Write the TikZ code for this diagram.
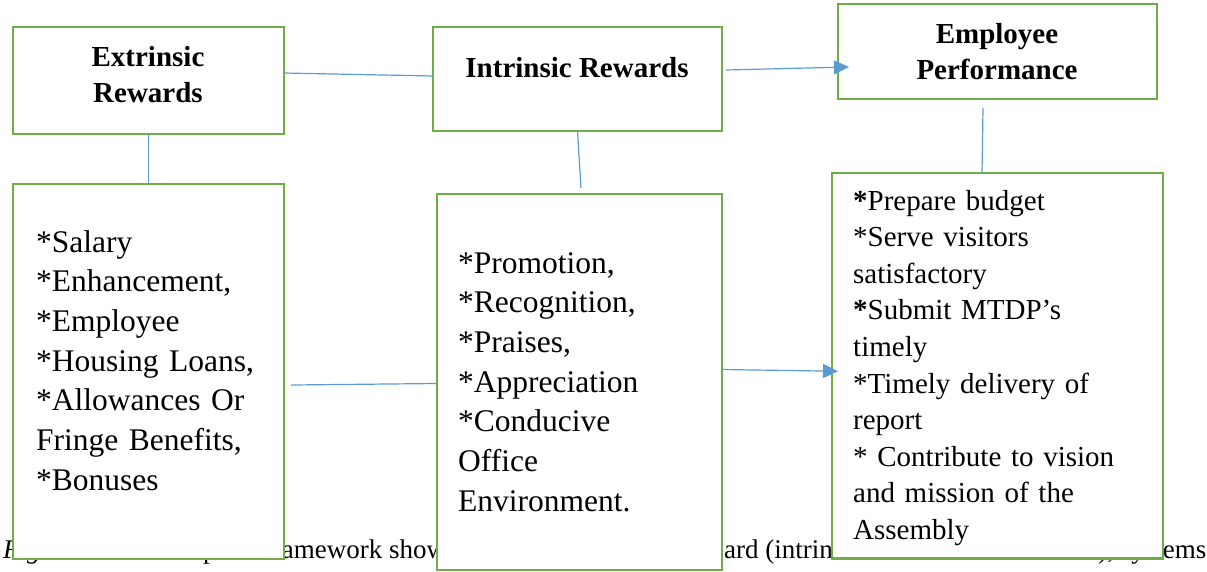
\documentclass[tikz,border=0pt]{standalone}
\usepackage{fontspec}
\setmainfont{Liberation Serif}
\usetikzlibrary{arrows.meta}
\definecolor{boxgreen}{HTML}{70AD47}
\definecolor{linkblue}{HTML}{5B9BD5}
\tikzset{
 box/.style={draw=boxgreen, line width=2.4pt, fill=white, rectangle, inner sep=0pt, outer sep=0pt, anchor=north west},
 link/.style={draw=linkblue, line width=1.2pt},
 arr/.style={link, -{Triangle[length=15pt,width=14pt]}},
 head/.style={font=\fontsize{29}{36}\selectfont\bfseries, align=center, inner sep=0pt, anchor=base},
 listbig/.style={font=\fontsize{31.5}{39.7}\selectfont, text width=250pt, align=left, inner sep=0pt, anchor=base west},
 listsmall/.style={font=\fontsize{29}{36.6}\selectfont, text width=300pt, align=left, inner sep=0pt, anchor=base west},
 captext/.style={font=\fontsize{27}{30}\selectfont, inner sep=0pt},
}
\begin{document}
\begin{tikzpicture}[x=1pt,y=-1pt]
\useasboundingbox (0,0) rectangle (1207,571);
% caption, partly hidden by the boxes
\node[captext, anchor=base west] (cap1) at (3,558.5) {\textit{Figure 2.1:} Conceptual framework showing};
\node[captext, anchor=base west] (cap2) at (724,558.5) {ard (intrinsic};
\node[captext, anchor=base east] (cap3) at (1206.5,558.5) {rewards), systems};
% boxes
\node[box, minimum width=271pt, minimum height=107pt] (ext) at (13,27) {};
\node[box, minimum width=289pt, minimum height=104pt] (intr) at (433,27) {};
\node[box, minimum width=319pt, minimum height=95pt] (emp) at (838,4) {};
\node[box, minimum width=271pt, minimum height=375pt] (lb) at (13,184) {};
\node[box, minimum width=285pt, minimum height=376pt] (mb) at (437,194) {};
\node[box, minimum width=331pt, minimum height=385.5pt] (rb) at (832,173) {};
% texts
\node[head] (extT) at (148,102) {Extrinsic\\Rewards};
\node[head] (intrT) at (577,77) {Intrinsic Rewards};
\node[head] (empT) at (997,79) {Employee\\Performance};
\node[listbig] (lbT) at (36,252) {{*}Salary\\{*}Enhancement,\\{*}Employee\\{*}Housing Loans,\\{*}Allowances Or\\Fringe Benefits,\\{*}Bonuses};
\node[listbig] (mbT) at (458,273) {{*}Promotion,\\{*}Recognition,\\{*}Praises,\\{*}Appreciation\\{*}Conducive\\Office\\Environment.};
\node[listsmall] (rbT) at (853,210) {\textbf{*}Prepare budget\\{*}Serve visitors\\satisfactory\\\textbf{*}Submit MTDP’s\\timely\\{*}Timely delivery of\\report\\{*} Contribute to vision\\and mission of the\\Assembly};
% connectors
\draw[link] ([yshift=7.5pt]ext.east) -- ([yshift=3pt]intr.west);
\draw[arr] ([xshift=4pt,yshift=9pt]intr.east) -- ([xshift=11pt,yshift=-15.5pt]emp.west);
\draw[link] (ext.south) -- (lb.north);
\draw[link] (intr.south) -- ([xshift=1.5pt,yshift=6pt]mb.north);
\draw[link] ([xshift=-14.5pt,yshift=-9pt]emp.south) -- ([xshift=-15.5pt]rb.north);
\draw[link] ([xshift=7pt,yshift=-13.5pt]lb.east) -- ([yshift=-1.5pt]mb.west);
\draw[arr] ([yshift=12.5pt]mb.east) -- ([xshift=6pt,yshift=-5.5pt]rb.west);
\end{tikzpicture}
\end{document}
